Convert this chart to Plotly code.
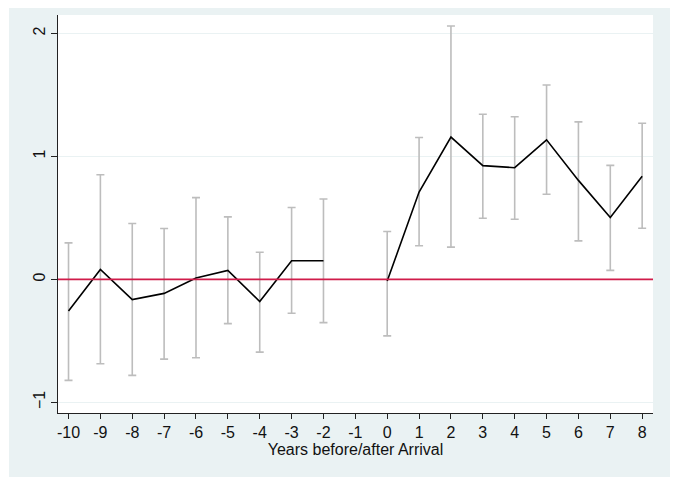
import plotly.graph_objects as go

# event-study estimates, years relative to arrival (-1 is the omitted year)
years = [-10, -9, -8, -7, -6, -5, -4, -3, -2, -1, 0, 1, 2, 3, 4, 5, 6, 7, 8]
coef = [-0.257, 0.081, -0.165, -0.114, 0.011, 0.073, -0.181, 0.151, 0.151, None,
        -0.014, 0.71, 1.157, 0.925, 0.908, 1.135, 0.805, 0.503, 0.838]
ci_hi = [0.297, 0.851, 0.454, 0.413, 0.665, 0.508, 0.221, 0.584, 0.654, None,
         0.389, 1.154, 2.06, 1.343, 1.322, 1.581, 1.281, 0.927, 1.270]
ci_lo = [-0.822, -0.687, -0.781, -0.649, -0.638, -0.360, -0.592, -0.276, -0.352, None,
         -0.460, 0.273, 0.262, 0.497, 0.489, 0.692, 0.313, 0.073, 0.416]

y_ticks = [-1, 0, 1, 2]

BG = "#eaf2f3"
W, H = 680, 477
OFF = 8  # page body margin shifts the figure in the window
ML, MR, MT, MB = 58 - OFF, 27 + OFF, 15 - OFF, 64 + OFF

err_plus = [None if c is None else h - c for c, h in zip(coef, ci_hi)]
err_minus = [None if c is None else c - l for c, l in zip(coef, ci_lo)]

fig = go.Figure()

fig.add_trace(go.Scatter(
    x=years, y=coef,
    mode="lines",
    line=dict(color="black", width=1.6),
    connectgaps=False,
    error_y=dict(type="data", symmetric=False, array=err_plus, arrayminus=err_minus,
                 color="#bdbdbd", thickness=1.6, width=4),
    hoverinfo="skip",
    showlegend=False,
))

# outer Stata-like background, then white plot region on top of it
pw = W - ML - MR
ph = H - MT - MB
fig.add_shape(type="rect", xref="paper", yref="paper", layer="below",
              x0=(9 - OFF - ML) / pw, x1=(670 - OFF - ML) / pw,
              y0=-MB / ph, y1=1 + MT / ph + 0.05,
              fillcolor=BG, line=dict(width=0))
fig.add_shape(type="rect", xref="paper", yref="paper", layer="below",
              x0=0, x1=1, y0=0, y1=1, fillcolor="white", line=dict(width=0))

fig.add_hline(y=0, line=dict(color="#d01c4a", width=1.6), layer="above")

fig.update_layout(
    width=W, height=H,
    margin=dict(l=ML, r=MR, t=MT, b=MB, autoexpand=False),
    paper_bgcolor="white",
    plot_bgcolor="white",
    font=dict(family="Liberation Sans, Arial, sans-serif", size=16, color="#111"),
)

fig.update_xaxes(
    range=[-10.33, 8.34],
    tickvals=years, ticktext=[str(v) for v in years],
    showgrid=False, zeroline=False,
    showline=True, linecolor="#222", linewidth=1.2,
    ticks="outside", ticklen=5, tickcolor="#222",
    title=dict(text="Years before/after Arrival", standoff=1, font=dict(size=16)),
)
fig.update_yaxes(
    range=[-1.087, 2.15],
    tickvals=y_ticks,
    tickangle=-90,
    showgrid=True, gridcolor=BG, gridwidth=1,
    zeroline=False,
    showline=True, linecolor="#222", linewidth=1.2,
    ticks="outside", ticklen=6, tickcolor="#222",
)

fig.write_html("out.html")
